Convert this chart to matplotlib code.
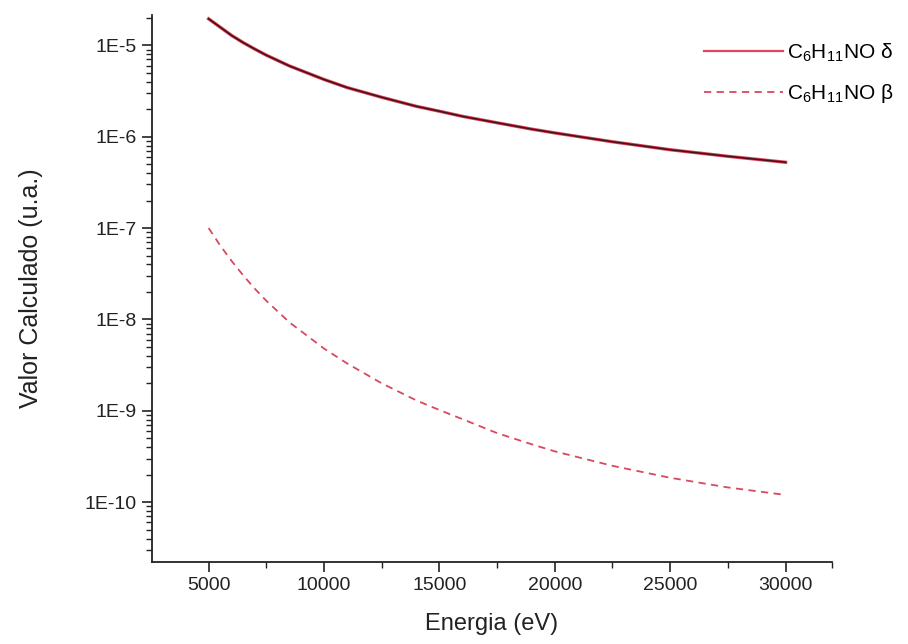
import numpy as np
import matplotlib.pyplot as plt
from matplotlib.ticker import FixedLocator, LogLocator, NullFormatter

plt.rcParams['font.family'] = ['Liberation Sans', 'DejaVu Sans']
plt.rcParams['mathtext.default'] = 'regular'

# energia (eV)
energia = [5000, 5500, 6000, 6500, 7000, 7500, 8500, 10000, 11000, 12500, 14000,
           15000, 16000, 17500, 19000, 20000, 22500, 25000, 27500, 30000]
# C6H11NO delta
delta = [1.95e-5, 1.58e-5, 1.28e-5, 1.07e-5, 9.1e-6, 7.8e-6, 5.95e-6, 4.23e-6, 3.45e-6, 2.7e-6, 2.15e-6,
         1.9e-6, 1.67e-6, 1.42e-6, 1.21e-6, 1.1e-6, 8.8e-7, 7.2e-7, 6.1e-7, 5.25e-7]
# C6H11NO beta
beta = [1.0e-7, 6.45e-8, 4.35e-8, 3.03e-8, 2.17e-8, 1.6e-8, 9.3e-9, 4.8e-9, 3.3e-9, 2.0e-9, 1.3e-9,
        1.02e-9, 8.1e-10, 5.7e-10, 4.3e-10, 3.6e-10, 2.5e-10, 1.85e-10, 1.45e-10, 1.2e-10]

lab_d = r'C$_6$H$_{11}$NO $\delta$'
lab_b = r'C$_6$H$_{11}$NO $\beta$'

fig = plt.figure(figsize=(9.08, 6.44), dpi=100)
ax = fig.add_axes([0.167, 0.127, 0.749, 0.85])

ax.plot(energia, delta, color='#e0465c', lw=2.4, label=lab_d)
ax.plot(energia, delta, color='#4a1018', lw=1.2)
ax.plot(energia, beta, color='#d8485e', lw=1.3, ls=(0, (4, 3)), label=lab_b)

ax.set_yscale('log')
ax.set_xlim(2530, 32000)
ax.set_ylim(10**-10.657, 10**-4.666)

ax.xaxis.set_major_locator(FixedLocator([5000, 10000, 15000, 20000, 25000, 30000]))
ax.xaxis.set_minor_locator(FixedLocator([2500, 7500, 12500, 17500, 22500, 27500, 32000]))
ax.yaxis.set_major_locator(FixedLocator([1e-10, 1e-9, 1e-8, 1e-7, 1e-6, 1e-5]))
ax.yaxis.set_minor_locator(LogLocator(base=10, subs=np.arange(2, 10), numticks=20))
ax.yaxis.set_minor_formatter(NullFormatter())
ax.set_yticklabels(['1E-10', '1E-9', '1E-8', '1E-7', '1E-6', '1E-5'])

for s in ['top', 'right']:
    ax.spines[s].set_visible(False)
for s in ['left', 'bottom']:
    ax.spines[s].set_linewidth(1.3)
    ax.spines[s].set_color('#222222')

ax.tick_params(which='major', direction='out', length=7, width=1.2, labelsize=14, colors='#222222')
ax.tick_params(which='minor', direction='out', length=4, width=1.0, colors='#222222')

ax.set_xlabel('Energia (eV)', fontsize=17, color='#222222', labelpad=14)
ax.set_ylabel('Valor Calculado (u.a.)', fontsize=18, color='#222222', labelpad=30)

leg = ax.legend(loc='upper right', bbox_to_anchor=(1.005, 0.965), bbox_transform=fig.transFigure,
                frameon=False, fontsize=15, handlelength=3.8, handletextpad=0.2, labelspacing=0.9)
leg.get_lines()[0].set_linewidth(1.6)

plt.savefig('out.png', dpi=100)
